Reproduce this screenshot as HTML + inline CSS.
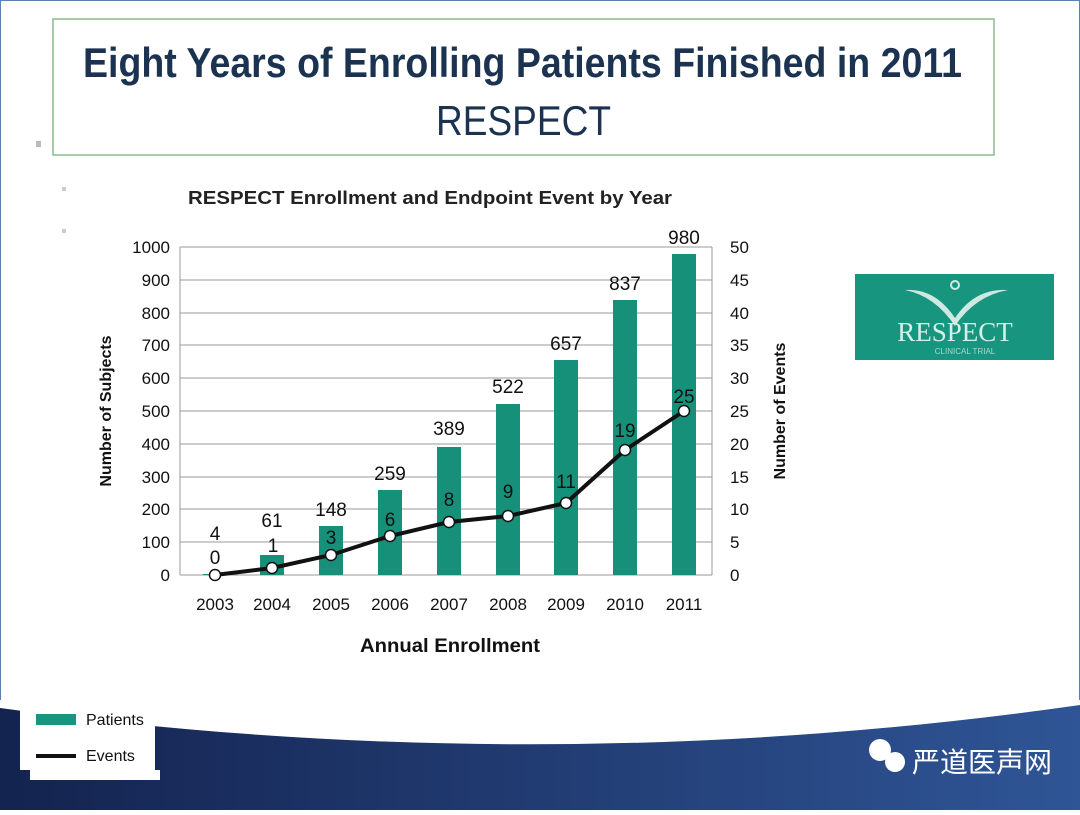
<!DOCTYPE html>
<html><head><meta charset="utf-8"><style>
body{margin:0;width:1080px;height:810px;overflow:hidden;background:#fff;font-family:"Liberation Sans","Noto Sans CJK SC",sans-serif}
</style></head><body>
<svg width="1080" height="810" viewBox="0 0 1080 810" xmlns="http://www.w3.org/2000/svg" font-family="Liberation Sans, Noto Sans CJK SC, sans-serif">
<defs><linearGradient id="bg" x1="0" x2="1"><stop offset="0" stop-color="#14234f"/><stop offset="1" stop-color="#2f5596"/></linearGradient></defs>
<rect x="0" y="0" width="1080" height="810" fill="#fff"/>
<rect x="0.5" y="0.5" width="1079" height="809" fill="none" stroke="#5b7fb3"/>
<rect x="53" y="19" width="941" height="136" fill="#fff" stroke="#8cba8c" stroke-width="1.5"/>
<text x="83" y="77" font-size="42" font-weight="bold" fill="#1b3350" textLength="879" lengthAdjust="spacingAndGlyphs">Eight Years of Enrolling Patients Finished in 2011</text>
<text x="436" y="135" font-size="42" fill="#1b3350" textLength="175" lengthAdjust="spacingAndGlyphs">RESPECT</text>
<rect x="36" y="141" width="5" height="6" fill="#bbb"/>
<rect x="62" y="187" width="4" height="4" fill="#ccc"/>
<rect x="62" y="229" width="4" height="4" fill="#ccc"/>
<text x="188" y="204" font-size="18" font-weight="bold" fill="#222" textLength="484" lengthAdjust="spacingAndGlyphs">RESPECT Enrollment and Endpoint Event by Year</text>
<g stroke="#999" stroke-width="1">
<line x1="180" y1="247" x2="712" y2="247"/><line x1="180" y1="280" x2="712" y2="280"/><line x1="180" y1="313" x2="712" y2="313"/><line x1="180" y1="345" x2="712" y2="345"/><line x1="180" y1="378" x2="712" y2="378"/><line x1="180" y1="411" x2="712" y2="411"/><line x1="180" y1="444" x2="712" y2="444"/><line x1="180" y1="477" x2="712" y2="477"/><line x1="180" y1="509" x2="712" y2="509"/><line x1="180" y1="542" x2="712" y2="542"/><line x1="180" y1="575" x2="712" y2="575"/>
<line x1="180" y1="247" x2="180" y2="575"/><line x1="712" y1="247" x2="712" y2="575"/>
</g>
<g font-size="17" fill="#111" text-anchor="end">
<text x="170" y="253">1000</text><text x="170" y="286">900</text><text x="170" y="319">800</text><text x="170" y="351">700</text><text x="170" y="384">600</text><text x="170" y="417">500</text><text x="170" y="450">400</text><text x="170" y="483">300</text><text x="170" y="515">200</text><text x="170" y="548">100</text><text x="170" y="581">0</text>
</g>
<g font-size="17" fill="#111" text-anchor="start">
<text x="730" y="253">50</text><text x="730" y="286">45</text><text x="730" y="319">40</text><text x="730" y="351">35</text><text x="730" y="384">30</text><text x="730" y="417">25</text><text x="730" y="450">20</text><text x="730" y="483">15</text><text x="730" y="515">10</text><text x="730" y="548">5</text><text x="730" y="581">0</text>
</g>
<text transform="translate(111,411) rotate(-90)" text-anchor="middle" font-size="16" font-weight="bold" fill="#111">Number of Subjects</text>
<text transform="translate(785,411) rotate(-90)" text-anchor="middle" font-size="16" font-weight="bold" fill="#111">Number of Events</text>
<g fill="#17907a">
<rect x="203" y="574" width="24" height="1"/>
<rect x="260" y="555" width="24" height="20"/>
<rect x="319" y="526" width="24" height="49"/>
<rect x="378" y="490" width="24" height="85"/>
<rect x="437" y="447" width="24" height="128"/>
<rect x="496" y="404" width="24" height="171"/>
<rect x="554" y="360" width="24" height="215"/>
<rect x="613" y="300" width="24" height="275"/>
<rect x="672" y="254" width="24" height="321"/>
</g>
<g font-size="19" fill="#111" text-anchor="middle">
<text x="215" y="540">4</text><text x="272" y="527">61</text><text x="331" y="516">148</text><text x="390" y="480">259</text><text x="449" y="435">389</text><text x="508" y="393">522</text><text x="566" y="350">657</text><text x="625" y="290">837</text><text x="684" y="244">980</text>
</g>
<polyline points="215,575 272,568 331,555 390,536 449,522 508,516 566,503 625,450 684,411" fill="none" stroke="#111" stroke-width="4"/>
<g fill="#fff" stroke="#111" stroke-width="1.5">
<circle cx="215" cy="575" r="5.5"/><circle cx="272" cy="568" r="5.5"/><circle cx="331" cy="555" r="5.5"/><circle cx="390" cy="536" r="5.5"/><circle cx="449" cy="522" r="5.5"/><circle cx="508" cy="516" r="5.5"/><circle cx="566" cy="503" r="5.5"/><circle cx="625" cy="450" r="5.5"/><circle cx="684" cy="411" r="5.5"/>
</g>
<g font-size="19" fill="#111" text-anchor="middle">
<text x="215" y="564">0</text><text x="273" y="552">1</text><text x="331" y="544">3</text><text x="390" y="526">6</text><text x="449" y="506">8</text><text x="508" y="498">9</text><text x="566" y="488">11</text><text x="625" y="437">19</text><text x="684" y="403">25</text>
</g>
<g font-size="17" fill="#111" text-anchor="middle">
<text x="215" y="610">2003</text><text x="272" y="610">2004</text><text x="331" y="610">2005</text><text x="390" y="610">2006</text><text x="449" y="610">2007</text><text x="508" y="610">2008</text><text x="566" y="610">2009</text><text x="625" y="610">2010</text><text x="684" y="610">2011</text>
</g>
<text x="360" y="652" font-size="19" font-weight="bold" fill="#111" textLength="180" lengthAdjust="spacingAndGlyphs">Annual Enrollment</text>
<rect x="855" y="274" width="199" height="86" fill="#17957f"/>
<path d="M905,290 Q935,288 955,318 Q975,288 1008,290 Q975,296 955,326 Q935,296 905,290Z" fill="#cfe9e2"/>
<circle cx="955" cy="285" r="4" fill="none" stroke="#cfe9e2" stroke-width="2"/>
<text x="955" y="341" text-anchor="middle" font-family="Liberation Serif, serif" font-size="27" fill="#d6efe8">RESPECT</text>
<text x="965" y="354" text-anchor="middle" font-size="8" fill="#a8d8cc">CLINICAL TRIAL</text>
<rect x="0" y="700" width="1080" height="110" fill="url(#bg)"/>
<path d="M0,700 L0,708 Q540,782 1080,705 L1080,700Z" fill="#fff"/>
<rect x="20" y="700" width="135" height="70" fill="#fff"/>
<rect x="30" y="770" width="130" height="10" fill="#fff"/>
<rect x="36" y="714" width="40" height="11" fill="#17957f"/>
<text x="86" y="725" font-size="16" fill="#111">Patients</text>
<rect x="36" y="754" width="40" height="4" fill="#111"/>
<text x="86" y="761" font-size="16" fill="#111">Events</text>
<circle cx="880" cy="750" r="11" fill="#fff"/><circle cx="895" cy="762" r="10" fill="#fff"/>
<text x="912" y="772" font-size="28" fill="#fff">严道医声网</text>
</svg>
</body></html>
